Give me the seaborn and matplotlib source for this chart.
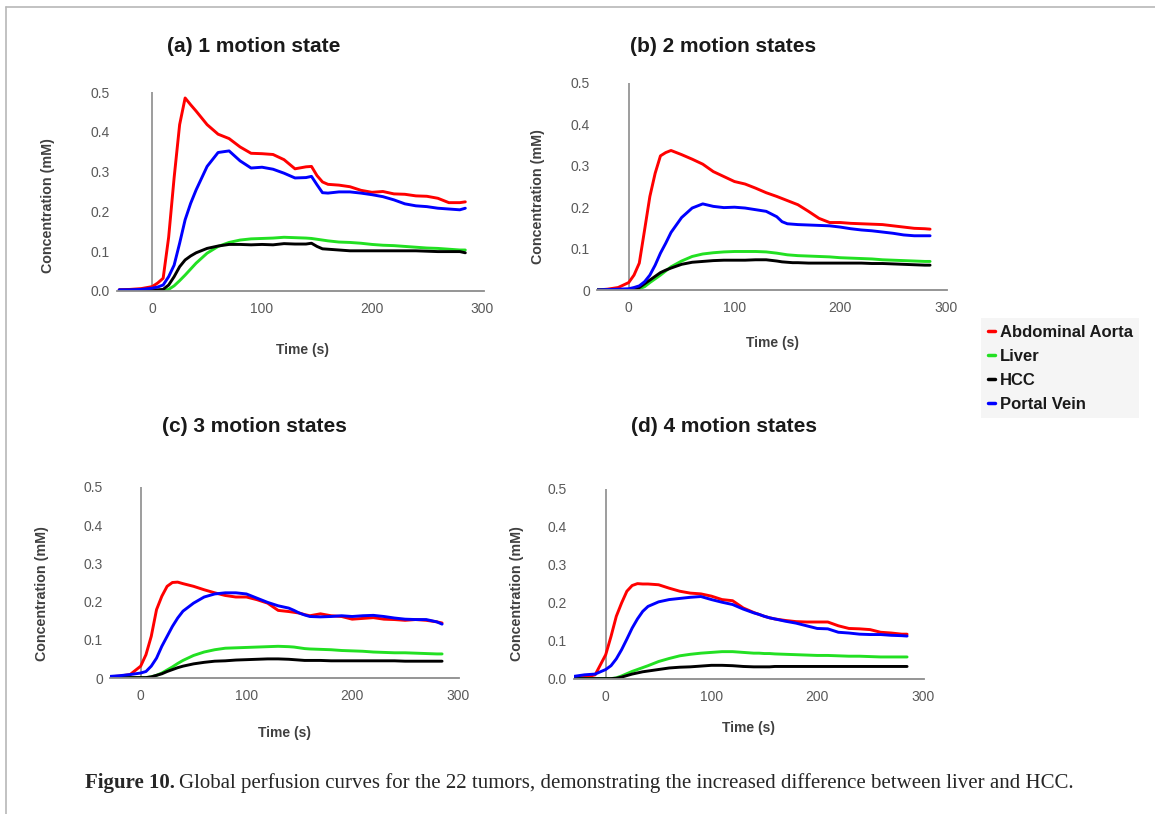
import pandas as pd
import seaborn as sns
import matplotlib.pyplot as plt
from matplotlib.lines import Line2D

# time grid (s) shared by all curves
time_s = [-30, -20, -10, 0, 5, 10, 15, 20, 25, 30, 35, 40, 50, 60, 70, 80, 90, 100,
          110, 120, 130, 140, 145, 150, 155, 160, 170, 180, 190, 200, 210, 220, 230,
          240, 250, 260, 270, 280, 285]

regions = ["Abdominal Aorta", "Liver", "HCC", "Portal Vein"]
colors = {"Abdominal Aorta": "#ff0000", "Liver": "#22e022",
          "HCC": "#000000", "Portal Vein": "#0000ff"}

# (a) 1 motion state
aorta_1 = [0.003, 0.004, 0.006, 0.011, 0.02, 0.032, 0.135, 0.285, 0.418, 0.485, 0.468, 0.452,
           0.418, 0.394, 0.383, 0.362, 0.346, 0.345, 0.343, 0.33, 0.307, 0.312, 0.313, 0.29,
           0.274, 0.268, 0.266, 0.262, 0.253, 0.248, 0.25, 0.244, 0.243, 0.239, 0.238, 0.233,
           0.222, 0.222, 0.224]
liver_1 = [0.001, 0.001, 0.001, 0.001, 0.001, 0.001, 0.004, 0.013, 0.026, 0.04, 0.055, 0.07,
           0.095, 0.112, 0.122, 0.128, 0.131, 0.132, 0.133, 0.135, 0.134, 0.133, 0.132, 0.13,
           0.128, 0.126, 0.123, 0.122, 0.12, 0.117, 0.115, 0.114, 0.112, 0.11, 0.108, 0.107,
           0.105, 0.103, 0.103]
hcc_1 = [0.002, 0.002, 0.002, 0.003, 0.003, 0.004, 0.015, 0.036, 0.061, 0.078, 0.088, 0.096,
         0.107, 0.113, 0.117, 0.117, 0.116, 0.117, 0.116, 0.119, 0.118, 0.118, 0.12, 0.112,
         0.106, 0.105, 0.103, 0.101, 0.101, 0.101, 0.101, 0.101, 0.101, 0.101, 0.1, 0.099,
         0.099, 0.099, 0.096]
portal_1 = [0.003, 0.003, 0.004, 0.007, 0.01, 0.015, 0.036, 0.065, 0.12, 0.179, 0.22, 0.254,
            0.313, 0.348, 0.352, 0.327, 0.309, 0.311, 0.306, 0.296, 0.284, 0.285, 0.288, 0.267,
            0.247, 0.246, 0.249, 0.249, 0.246, 0.242, 0.237, 0.229, 0.219, 0.214, 0.212, 0.208,
            0.206, 0.204, 0.208]

# (b) 2 motion states
aorta_2 = [0.0, 0.002, 0.006, 0.018, 0.036, 0.065, 0.145, 0.226, 0.282, 0.324, 0.332, 0.337,
           0.327, 0.316, 0.304, 0.286, 0.274, 0.262, 0.256, 0.246, 0.235, 0.226, 0.221, 0.216,
           0.211, 0.206, 0.19, 0.173, 0.163, 0.163, 0.161, 0.16, 0.159, 0.158, 0.155, 0.152,
           0.149, 0.148, 0.147]
liver_2 = [0.0, 0.0, 0.0, 0.0, 0.001, 0.003, 0.008, 0.018, 0.027, 0.036, 0.046, 0.056,
           0.07, 0.081, 0.087, 0.09, 0.092, 0.093, 0.093, 0.093, 0.092, 0.089, 0.087, 0.085,
           0.084, 0.083, 0.082, 0.081, 0.08, 0.078, 0.077, 0.076, 0.075, 0.073, 0.072, 0.071,
           0.07, 0.069, 0.069]
hcc_2 = [0.0, 0.0, 0.0, 0.001, 0.002, 0.006, 0.015, 0.024, 0.033, 0.042, 0.048, 0.053,
         0.062, 0.067, 0.069, 0.071, 0.072, 0.072, 0.072, 0.073, 0.073, 0.07, 0.068, 0.067,
         0.066, 0.066, 0.065, 0.065, 0.065, 0.065, 0.065, 0.065, 0.064, 0.064, 0.063, 0.062,
         0.061, 0.06, 0.06]
portal_2 = [0.0, 0.001, 0.002, 0.003, 0.006, 0.01, 0.02, 0.036, 0.06, 0.089, 0.113, 0.139,
            0.175, 0.198, 0.208, 0.202, 0.199, 0.2, 0.198, 0.194, 0.19, 0.177, 0.165, 0.16,
            0.159, 0.158, 0.157, 0.156, 0.155, 0.152, 0.148, 0.145, 0.143, 0.14, 0.137, 0.133,
            0.131, 0.131, 0.131]

# (c) 3 motion states
aorta_3 = [0.003, 0.005, 0.009, 0.031, 0.061, 0.109, 0.179, 0.214, 0.24, 0.25, 0.251, 0.247,
           0.24, 0.231, 0.223, 0.216, 0.212, 0.212, 0.205, 0.196, 0.177, 0.174, 0.172, 0.17,
           0.166, 0.163, 0.168, 0.163, 0.161, 0.154, 0.156, 0.158, 0.154, 0.153, 0.151, 0.153,
           0.151, 0.147, 0.144]
liver_3 = [0.001, 0.001, 0.001, 0.001, 0.001, 0.003, 0.007, 0.013, 0.021, 0.029, 0.038, 0.046,
           0.059, 0.068, 0.074, 0.078, 0.079, 0.08, 0.081, 0.082, 0.083, 0.082, 0.081, 0.079,
           0.077, 0.076, 0.075, 0.074, 0.072, 0.071, 0.07, 0.068, 0.067, 0.066, 0.066, 0.065,
           0.064, 0.063, 0.063]
hcc_3 = [0.001, 0.001, 0.001, 0.001, 0.001, 0.003, 0.007, 0.011, 0.017, 0.022, 0.027, 0.031,
         0.037, 0.041, 0.044, 0.045, 0.047, 0.048, 0.049, 0.05, 0.05, 0.049, 0.048, 0.047,
         0.046, 0.046, 0.046, 0.045, 0.045, 0.045, 0.045, 0.045, 0.045, 0.045, 0.044, 0.044,
         0.044, 0.044, 0.044]
portal_3 = [0.004, 0.006, 0.009, 0.013, 0.017, 0.031, 0.052, 0.083, 0.109, 0.135, 0.157, 0.175,
            0.196, 0.212, 0.22, 0.223, 0.223, 0.22, 0.209, 0.198, 0.189, 0.183, 0.177, 0.17,
            0.165, 0.161, 0.16, 0.161, 0.163, 0.161, 0.163, 0.164, 0.161, 0.157, 0.154, 0.153,
            0.153, 0.147, 0.141]

# (d) 4 motion states
aorta_4 = [0.003, 0.004, 0.011, 0.064, 0.112, 0.165, 0.2, 0.231, 0.246, 0.251, 0.25, 0.25,
           0.248, 0.239, 0.231, 0.226, 0.224, 0.218, 0.209, 0.206, 0.187, 0.175, 0.17, 0.165,
           0.161, 0.158, 0.154, 0.151, 0.15, 0.15, 0.15, 0.14, 0.133, 0.132, 0.13, 0.123,
           0.121, 0.118, 0.118]
liver_4 = [0.001, 0.001, 0.001, 0.001, 0.001, 0.003, 0.008, 0.014, 0.02, 0.025, 0.03, 0.035,
           0.046, 0.054, 0.061, 0.065, 0.068, 0.07, 0.072, 0.072, 0.07, 0.068, 0.068, 0.067,
           0.067, 0.066, 0.065, 0.064, 0.063, 0.062, 0.062, 0.061, 0.06, 0.06, 0.059, 0.058,
           0.058, 0.058, 0.058]
hcc_4 = [0.001, 0.001, 0.001, 0.001, 0.001, 0.002, 0.005, 0.009, 0.013, 0.016, 0.019, 0.021,
         0.025, 0.029, 0.031, 0.032, 0.034, 0.036, 0.036, 0.035, 0.033, 0.032, 0.032, 0.032,
         0.032, 0.033, 0.033, 0.033, 0.033, 0.033, 0.033, 0.033, 0.033, 0.033, 0.033, 0.033,
         0.033, 0.033, 0.033]
portal_4 = [0.007, 0.011, 0.013, 0.025, 0.035, 0.053, 0.077, 0.105, 0.134, 0.158, 0.178, 0.191,
            0.203, 0.209, 0.212, 0.215, 0.217, 0.209, 0.202, 0.196, 0.184, 0.174, 0.17, 0.165,
            0.161, 0.158, 0.152, 0.147, 0.14, 0.133, 0.132, 0.123, 0.121, 0.118, 0.117, 0.117,
            0.115, 0.114, 0.113]

y_ticks = [0, 0.1, 0.2, 0.3, 0.4, 0.5]
y_labels_dec = ["0.0", "0.1", "0.2", "0.3", "0.4", "0.5"]
y_labels_int = ["0", "0.1", "0.2", "0.3", "0.4", "0.5"]
x_ticks = [0, 100, 200, 300]

W, H = 1155, 814
sns.set_style("white")
plt.rcParams['font.family'] = ['Liberation Sans', 'DejaVu Sans']

fig = plt.figure(figsize=(W / 100, H / 100), dpi=100)

# title, series, plot box in px (left, top, right, bottom), x range, y labels,
# title pos, ylabel pos, xlabel pos
panels = [
    ("(a) 1 motion state", [aorta_1, liver_1, hcc_1, portal_1], (117, 92, 484, 291),
     (-32, 302), y_labels_dec, (254, 47), (48, 206), (302, 350)),
    ("(b) 2 motion states", [aorta_2, liver_2, hcc_2, portal_2], (597, 83, 947, 290),
     (-30, 301), y_labels_int, (723, 47), (538, 197), (772, 343)),
    ("(c) 3 motion states", [aorta_3, liver_3, hcc_3, portal_3], (110, 487, 459, 678),
     (-29, 301), y_labels_int, (254, 427), (42, 594), (285, 733)),
    ("(d) 4 motion states", [aorta_4, liver_4, hcc_4, portal_4], (574, 489, 924, 679),
     (-30, 301), y_labels_dec, (724, 427), (517, 594), (748, 728)),
]

axis_grey = "#8c8c8c"
tick_grey = "#595959"
label_grey = "#404040"

for title, series, box, xlim, ylabs, tpos, ylpos, xlpos in panels:
    l, t, r, b = box
    ax = fig.add_axes([l / W, 1 - b / H, (r - l) / W, (b - t) / H])
    frames = []
    for name, vals in zip(regions, series):
        frames.append(pd.DataFrame({"time": time_s, "conc": vals, "region": name}))
    df = pd.concat(frames, ignore_index=True)
    sns.lineplot(data=df, x="time", y="conc", hue="region", hue_order=regions,
                 palette=colors, linewidth=2.1, legend=False, estimator=None,
                 sort=False, ax=ax)
    ax.axvline(0, color=axis_grey, lw=1.2, zorder=0)
    ax.set_xlim(*xlim)
    ax.set_ylim(0, 0.5)
    ax.set_xticks(x_ticks)
    ax.set_yticks(y_ticks)
    ax.set_yticklabels(ylabs)
    ax.set_xlabel("")
    ax.set_ylabel("")
    for s in ["top", "right", "left"]:
        ax.spines[s].set_visible(False)
    ax.spines["bottom"].set_color(axis_grey)
    ax.spines["bottom"].set_linewidth(1.3)
    ax.tick_params(length=0, colors=tick_grey, labelsize=10)
    ax.tick_params(axis="y", pad=5)
    ax.tick_params(axis="x", pad=8)
    ax.patch.set_alpha(0)

    fig.text(tpos[0] / W, 1 - tpos[1] / H, title, fontsize=15, fontweight="bold",
             color="#1a1a1a", ha="center", va="center")
    fig.text(ylpos[0] / W, 1 - ylpos[1] / H, "Concentration (mM)", fontsize=10.3,
             fontweight="bold", color=label_grey, rotation=90, ha="center", va="center")
    fig.text(xlpos[0] / W, 1 - xlpos[1] / H, "Time (s)", fontsize=10,
             fontweight="bold", color=label_grey, ha="center", va="center")

# legend
handles = [Line2D([0], [0], color=colors[n], lw=2.5) for n in regions]
leg = fig.legend(handles, regions, loc="upper left",
                 bbox_to_anchor=(981 / W, 1 - 318 / H), frameon=True, borderaxespad=0,
                 handlelength=0.42, handletextpad=0.3, labelspacing=0.54,
                 borderpad=0.4, prop={"weight": "bold", "size": 12})
leg.get_frame().set_facecolor("#f3f3f3")
leg.get_frame().set_edgecolor("none")
leg.get_frame().set_boxstyle("square", pad=0)
for txt in leg.get_texts():
    txt.set_color("#1a1a1a")

# caption
cap_y = 1 - 783 / H
bold_part = fig.text(85 / W, cap_y, "Figure 10.", fontsize=15, fontweight="bold",
                     family="Liberation Serif", ha="left", va="center")
fig.canvas.draw()
bb = bold_part.get_window_extent()
fig.text((bb.x1 + 4) / W, cap_y,
         "Global perfusion curves for the 22 tumors, demonstrating the increased "
         "difference between liver and HCC.",
         fontsize=15, family="Liberation Serif", ha="left", va="center")

# thin page border
fig.add_artist(Line2D([6 / W, 6 / W], [0, 1 - 7 / H], color="#b8b8b8", lw=1.2,
                      transform=fig.transFigure))
fig.add_artist(Line2D([6 / W, 1], [1 - 7 / H, 1 - 7 / H], color="#b8b8b8", lw=1.2,
                      transform=fig.transFigure))

fig.savefig("out.png", dpi=100)
